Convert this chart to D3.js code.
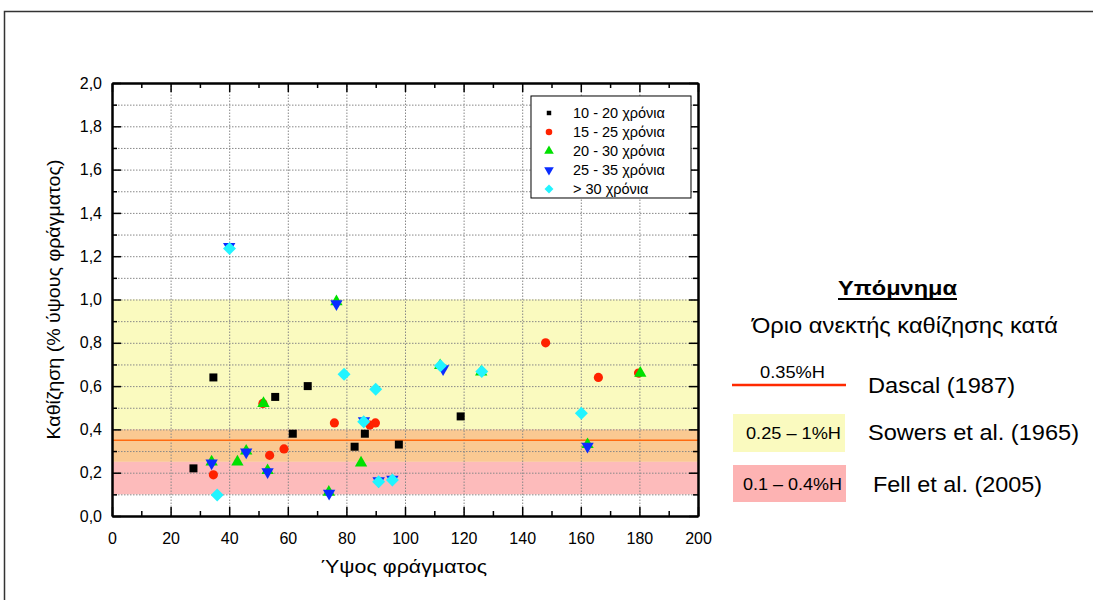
<!DOCTYPE html>
<html>
<head>
<meta charset="utf-8">
<script src="https://cdn.jsdelivr.net/npm/d3@7"></script>
<style>
  body { margin: 0; background: #fff; }
  text { font-family: "Liberation Sans", Arial, sans-serif; }
</style>
</head>
<body>
<div id="chart"></div>
<script>
// series: [height (m), settlement (% of height)]
var series1020 = [[27.8, 0.22], [34.6, 0.64], [55.7, 0.55], [66.8, 0.60], [61.7, 0.38],
  [82.8, 0.32], [86.3, 0.38], [97.9, 0.33], [119, 0.46]];
var series1525 = [[34.6, 0.19], [51.5, 0.52], [53.8, 0.28], [58.7, 0.31], [75.9, 0.43],
  [88, 0.42], [89.9, 0.43], [148, 0.80], [166, 0.64], [179.7, 0.66]];
var series2030 = [[34, 0.25], [42.8, 0.25], [45.8, 0.30], [51.7, 0.52], [53.1, 0.21],
  [74, 0.11], [76.6, 0.99], [85, 0.245], [112, 0.695], [126, 0.665], [162.3, 0.33], [180.3, 0.66]];
var series2535 = [[34, 0.244], [45.8, 0.295], [53.1, 0.204], [74.1, 0.105], [76.6, 0.98],
  [113, 0.68], [162.3, 0.322], [40, 1.245], [91, 0.162], [95.7, 0.17], [86, 0.44]];
var series30 = [[40.1, 1.235], [35.9, 0.097], [79.2, 0.655], [90, 0.585], [85.9, 0.435],
  [91, 0.158], [95.7, 0.166], [112.1, 0.694], [126.2, 0.667], [160.2, 0.475]];

var seriesNames = ["10 - 20 χρόνια", "15 - 25 χρόνια", "20 - 30 χρόνια", "25 - 35 χρόνια", "> 30 χρόνια"];
var xTicks = [0, 20, 40, 60, 80, 100, 120, 140, 160, 180, 200];
var yTicks = [0, 0.2, 0.4, 0.6, 0.8, 1.0, 1.2, 1.4, 1.6, 1.8, 2.0];

// tolerance limits (% of height)
var dascalLimit = 0.35;
var sowersBand = [0.25, 1.0];
var fellBand = [0.1, 0.4];

var svgWidth = 1093, svgHeight = 600;
var margin = { top: 83, left: 112 };
var width = 586, height = 433;

var svg = d3.select("#chart").append("svg")
  .attr("width", svgWidth)
  .attr("height", svgHeight);

// outer frame
svg.append("rect")
  .attr("x", 4.5).attr("y", 11.5)
  .attr("width", 1200).attr("height", 700)
  .attr("fill", "none").attr("stroke", "#333").attr("stroke-width", 1.5);

var g = svg.append("g").attr("transform", `translate(${margin.left}, ${margin.top})`);

var x = d3.scaleLinear().domain([0, 200]).range([0, width]);
var y = d3.scaleLinear().domain([0, 2]).range([height, 0]);

// bands
g.append("rect")
  .attr("x", 0).attr("width", width)
  .attr("y", y(sowersBand[1])).attr("height", y(fellBand[1]) - y(sowersBand[1]))
  .attr("fill", "#fafabf");
g.append("rect")
  .attr("x", 0).attr("width", width)
  .attr("y", y(fellBand[1])).attr("height", y(sowersBand[0]) - y(fellBand[1]))
  .attr("fill", "#fac992");
g.append("rect")
  .attr("x", 0).attr("width", width)
  .attr("y", y(sowersBand[0])).attr("height", y(fellBand[0]) - y(sowersBand[0]))
  .attr("fill", "#fdbbbb");

// grid
g.append("g")
  .call(d3.axisLeft(y).ticks(20).tickSize(-width).tickFormat(""))
  .call(a => a.select(".domain").remove())
  .selectAll("line").attr("stroke", "#888").attr("stroke-dasharray", "1.5,1.5");
g.append("g")
  .attr("transform", `translate(0, ${height})`)
  .call(d3.axisBottom(x).tickValues(xTicks).tickSize(-height).tickFormat(""))
  .call(a => a.select(".domain").remove())
  .selectAll("line").attr("stroke", "#888").attr("stroke-dasharray", "1.5,1.5");

// Dascal line
g.append("line")
  .attr("x1", 0).attr("x2", width)
  .attr("y1", y(dascalLimit)).attr("y2", y(dascalLimit))
  .attr("stroke", "#ff6a10").attr("stroke-width", 1.5);

// markers
var symSquare = d3.symbol().type(d3.symbolSquare).size(64);
var symCircle = d3.symbol().type(d3.symbolCircle).size(66);
var symUp = d3.symbol().type(d3.symbolTriangle).size(66);
var symDiamond = d3.symbol().type(d3.symbolSquare).size(84);

var styles = [
  { data: series1020, color: "#000000", path: symSquare(), rot: 0 },
  { data: series1525, color: "#ff2200", path: symCircle(), rot: 0 },
  { data: series2030, color: "#00e000", path: symUp(), rot: 0 },
  { data: series2535, color: "#0a2cff", path: symUp(), rot: 180 },
  { data: series30, color: "#22f4ff", path: symDiamond(), rot: 45 }
];

styles.forEach(function(s) {
  g.append("g").selectAll("path")
    .data(s.data)
    .enter()
    .append("path")
    .attr("d", s.path)
    .attr("transform", d => `translate(${x(d[0])}, ${y(d[1])}) rotate(${s.rot})`)
    .attr("fill", s.color);
});

// axes with inward ticks
function styleAxis(a) {
  a.select(".domain").attr("stroke", "#000").attr("stroke-width", 2);
  a.selectAll("line").attr("stroke", "#000").attr("stroke-width", 1.5);
}
var minorX = d3.range(10, 200, 20);
var minorY = d3.range(0.1, 2, 0.2);

g.append("g").attr("transform", `translate(0, ${height})`)
  .call(d3.axisBottom(x).tickValues(minorX).tickSizeInner(-5).tickSizeOuter(0).tickFormat(""))
  .call(styleAxis);
g.append("g").attr("transform", `translate(0, ${height})`)
  .call(d3.axisBottom(x).tickValues(xTicks).tickSizeInner(-9).tickSizeOuter(0).tickPadding(17))
  .call(styleAxis)
  .selectAll("text").attr("font-size", 16).attr("fill", "#000");

g.append("g")
  .call(d3.axisTop(x).tickValues(minorX).tickSizeInner(-5).tickSizeOuter(0).tickFormat(""))
  .call(styleAxis);
g.append("g")
  .call(d3.axisTop(x).tickValues(xTicks).tickSizeInner(-9).tickSizeOuter(0).tickFormat(""))
  .call(styleAxis);

g.append("g")
  .call(d3.axisLeft(y).tickValues(minorY).tickSizeInner(-5).tickSizeOuter(0).tickFormat(""))
  .call(styleAxis);
g.append("g")
  .call(d3.axisLeft(y).tickValues(yTicks).tickSizeInner(-9).tickSizeOuter(0).tickPadding(10)
    .tickFormat(d => d3.format(".1f")(d).replace(".", ",")))
  .call(styleAxis)
  .selectAll("text").attr("font-size", 16).attr("fill", "#000");

g.append("g").attr("transform", `translate(${width}, 0)`)
  .call(d3.axisRight(y).tickValues(minorY).tickSizeInner(-5).tickSizeOuter(0).tickFormat(""))
  .call(styleAxis);
g.append("g").attr("transform", `translate(${width}, 0)`)
  .call(d3.axisRight(y).tickValues(yTicks).tickSizeInner(-9).tickSizeOuter(0).tickFormat(""))
  .call(styleAxis);

// axis titles
g.append("text")
  .attr("x", width / 2 - 1).attr("y", height + 57)
  .attr("text-anchor", "middle").attr("font-size", 19)
  .attr("textLength", 166).attr("lengthAdjust", "spacingAndGlyphs")
  .text("Ύψος φράγματος");
g.append("text")
  .attr("transform", `translate(-52, ${height / 2}) rotate(-90)`)
  .attr("text-anchor", "middle").attr("font-size", 19)
  .attr("textLength", 280).attr("lengthAdjust", "spacingAndGlyphs")
  .text("Καθίζηση (% ύψους φράγματος)");

// series legend
var lg = g.append("g").attr("transform", `translate(${x(143)}, ${y(1.94)})`);
lg.append("rect")
  .attr("width", 160).attr("height", 102)
  .attr("fill", "#fff").attr("stroke", "#000").attr("stroke-width", 1);
styles.forEach(function(s, i) {
  var sym = [d3.symbolSquare, d3.symbolCircle, d3.symbolTriangle, d3.symbolTriangle, d3.symbolSquare][i];
  lg.append("path")
    .attr("d", d3.symbol().type(sym).size([20, 34, 40, 40, 40][i])())
    .attr("transform", `translate(18, ${17 + i * 19}) rotate(${s.rot})`)
    .attr("fill", s.color);
  lg.append("text")
    .attr("x", 42).attr("y", 17 + i * 19).attr("dy", "0.35em")
    .attr("font-size", 14.5)
    .text(seriesNames[i]);
});

// right-hand legend (Υπόμνημα)
var rl = svg.append("g");
function label(txt, px, py, size, len, anchor) {
  return rl.append("text")
    .attr("x", px).attr("y", py).attr("text-anchor", anchor || "start")
    .attr("font-size", size)
    .attr("textLength", len).attr("lengthAdjust", "spacingAndGlyphs")
    .text(txt);
}
label("Υπόμνημα", 838, 295, 21, 119).attr("font-weight", "bold");
rl.append("line")
  .attr("x1", 838).attr("x2", 957).attr("y1", 299).attr("y2", 299)
  .attr("stroke", "#000").attr("stroke-width", 2);
label("Όριο ανεκτής καθίζησης κατά", 752, 333, 22, 306);

rl.append("line")
  .attr("x1", 732).attr("x2", 846).attr("y1", 385).attr("y2", 385)
  .attr("stroke", "#ff2a00").attr("stroke-width", 2.5);
label("0.35%H", 760, 378, 16, 65);
label("Dascal (1987)", 868, 393, 22, 147);

rl.append("rect")
  .attr("x", 733).attr("y", 414).attr("width", 112).attr("height", 38)
  .attr("fill", "#fafabf");
label("0.25 – 1%H", 746, 439, 16, 95);
label("Sowers et al. (1965)", 868, 440, 22, 211);

rl.append("rect")
  .attr("x", 733).attr("y", 465).attr("width", 113).attr("height", 37)
  .attr("fill", "#fdb3b3");
label("0.1 – 0.4%H", 743, 490, 16, 99);
label("Fell et al. (2005)", 873, 492, 22, 169);
</script>
</body>
</html>
